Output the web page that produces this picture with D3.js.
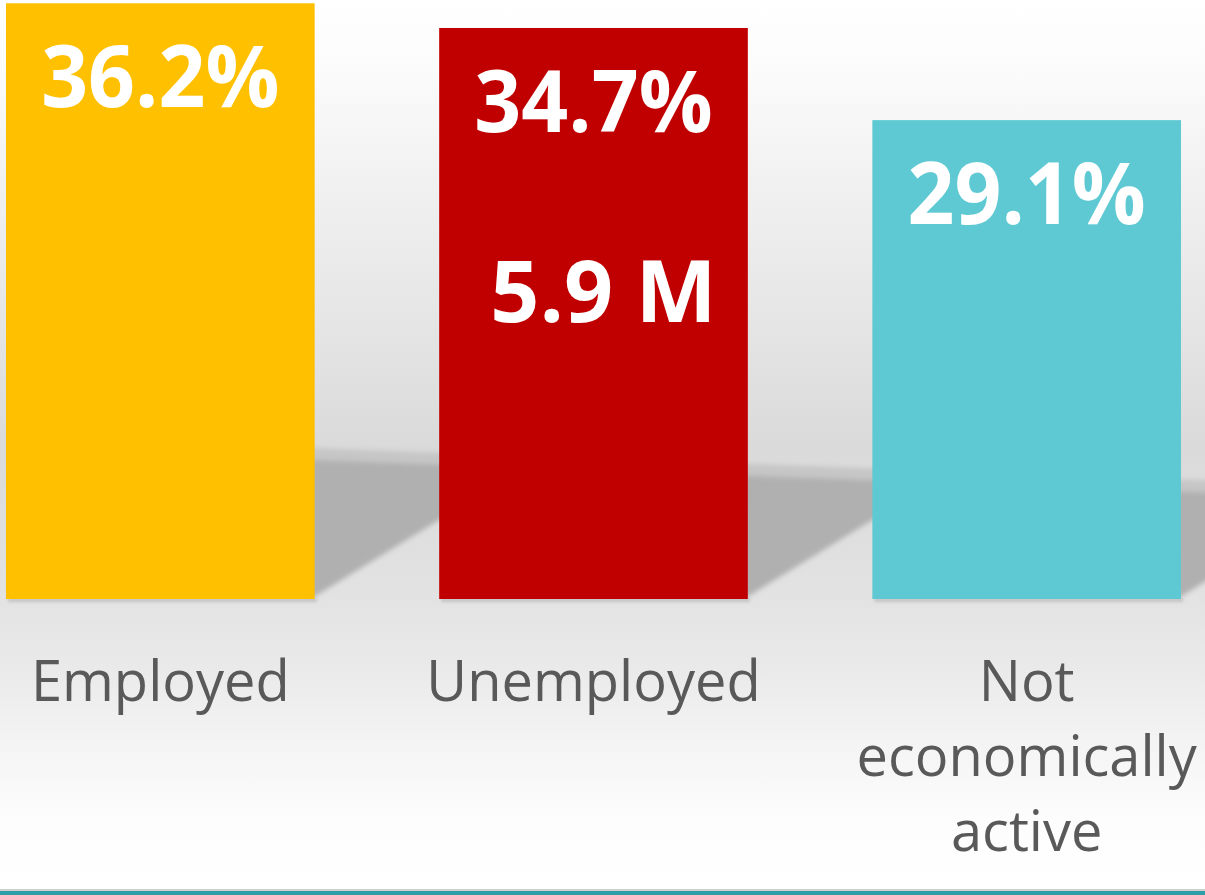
<!DOCTYPE html>
<html>
<head>
<meta charset="utf-8">
<script src="https://cdn.jsdelivr.net/npm/d3@7"></script>
<style>
  html, body { margin: 0; padding: 0; background: #ffffff; }
  svg { display: block; }
</style>
</head>
<body>
<div id="chart"></div>
<script>
// ---- data ----
const categories = ["Employed", "Unemployed", "Not economically active"];
const labelLines = [["Employed"], ["Unemployed"], ["Not", "economically", "active"]];
const shares = [36.2, 34.7, 29.1];
const shareLabels = ["36.2%", "34.7%", "29.1%"];
const extraLabels = ["", "5.9 M", ""];
const barColors = ["#FFC000", "#C00000", "#5FC9D3"];

const W = 1205, H = 895;
const baseY = 599;

const svg = d3.select("#chart").append("svg").attr("width", W).attr("height", H);
const defs = svg.append("defs");

// background gradient
const bg = defs.append("linearGradient").attr("id", "bg").attr("x1", 0).attr("y1", 0).attr("x2", 0).attr("y2", 1);
[[0, "#ffffff"], [0.08, "#fbfbfb"], [0.2, "#f1f1f1"], [0.35, "#e6e6e6"], [0.5, "#dadada"],
 [0.66, "#e2e2e2"], [0.75, "#eaeaea"], [0.84, "#f5f5f5"], [0.92, "#fdfdfd"], [1, "#ffffff"]]
  .forEach(([o, c]) => bg.append("stop").attr("offset", o).attr("stop-color", c));
svg.append("rect").attr("width", W).attr("height", H).attr("fill", "url(#bg)");

const blur = defs.append("filter").attr("id", "blur").attr("x", "-20%").attr("y", "-20%").attr("width", "140%").attr("height", "140%");
blur.append("feGaussianBlur").attr("stdDeviation", 2.5);
const blur2 = defs.append("filter").attr("id", "blur2").attr("x", "-20%").attr("y", "-200%").attr("width", "140%").attr("height", "500%");
blur2.append("feGaussianBlur").attr("stdDeviation", 1.5);

const x = d3.scaleBand().domain(categories).range([6, 1181]).paddingInner(0.2875).paddingOuter(0);
const y = d3.scaleLinear().domain([0, 36.4]).range([baseY, 0]);

const data = categories.map((c, i) => ({
  cat: c, lines: labelLines[i], v: shares[i], lab: shareLabels[i], extra: extraLabels[i], color: barColors[i]
}));

// floor / cast shadows to the right of each bar
const horizon = xx => 452 + (xx - 314) * 0.036;
const sh = svg.append("g").attr("filter", "url(#blur)");
data.forEach(d => {
  const xr = x(d.cat) + x.bandwidth();
  const len = 170;
  const pts = [
    [xr - 4, horizon(xr) + 6],
    [xr + len, horizon(xr + len) + 6],
    [xr + len, baseY - len * 0.63],
    [xr - 4, baseY]
  ];
  sh.append("polygon").attr("points", pts.map(p => p.join(",")).join(" ")).attr("fill", "#b0b0b0");
  sh.append("polygon").attr("points", [
    [xr - 4, horizon(xr) - 4], [xr + len, horizon(xr + len) - 4],
    [xr + len, horizon(xr + len) + 8], [xr - 4, horizon(xr) + 8]
  ].map(p => p.join(",")).join(" ")).attr("fill", "#c6c6c6");
});

// subtle shadow below bars
svg.append("g").selectAll("rect").data(data).join("rect")
  .attr("x", d => x(d.cat) + 2).attr("y", baseY - 1)
  .attr("width", x.bandwidth()).attr("height", 4)
  .attr("fill", "#c4c4c4").attr("filter", "url(#blur2)");

// bars
svg.append("g").selectAll("rect").data(data).join("rect")
  .attr("x", d => x(d.cat)).attr("y", d => y(d.v))
  .attr("width", x.bandwidth()).attr("height", d => baseY - y(d.v))
  .attr("fill", d => d.color);

// value labels
const valFont = "'Open Sans', 'DejaVu Sans', sans-serif";
svg.append("g").selectAll("text").data(data).join("text")
  .attr("x", d => x(d.cat) + x.bandwidth() / 2)
  .attr("y", d => y(d.v) + 104)
  .attr("text-anchor", "middle")
  .attr("font-family", valFont).attr("font-weight", 700).attr("font-size", 86)
  .attr("fill", "#ffffff")
  .text(d => d.lab)
  .each(function () {
    const len = this.getComputedTextLength();
    d3.select(this).attr("textLength", len * 0.955).attr("lengthAdjust", "spacingAndGlyphs");
  });

svg.append("g").selectAll("text").data(data.filter(d => d.extra)).join("text")
  .attr("x", d => x(d.cat) + x.bandwidth() / 2 + 10)
  .attr("y", d => y(d.v) + 294)
  .attr("text-anchor", "middle")
  .attr("font-family", valFont).attr("font-weight", 700).attr("font-size", 86)
  .attr("fill", "#ffffff")
  .text(d => d.extra);

// category labels
const catG = svg.append("g");
data.forEach(d => {
  const t = catG.append("text")
    .attr("x", x(d.cat) + x.bandwidth() / 2)
    .attr("y", 701)
    .attr("text-anchor", "middle")
    .attr("font-family", "'Open Sans', 'DejaVu Sans', sans-serif")
    .attr("font-size", 56)
    .attr("fill", "#595959");
  d.lines.forEach((ln, i) => {
    t.append("tspan").attr("x", x(d.cat) + x.bandwidth() / 2).attr("dy", i === 0 ? 0 : 75).text(ln);
  });
});

// bottom rule
svg.append("rect").attr("x", 0).attr("y", 889).attr("width", W).attr("height", 2).attr("fill", "#d0d0d0");
svg.append("rect").attr("x", 0).attr("y", 891).attr("width", W).attr("height", 4).attr("fill", "#2E9FA8");
</script>
</body>
</html>
